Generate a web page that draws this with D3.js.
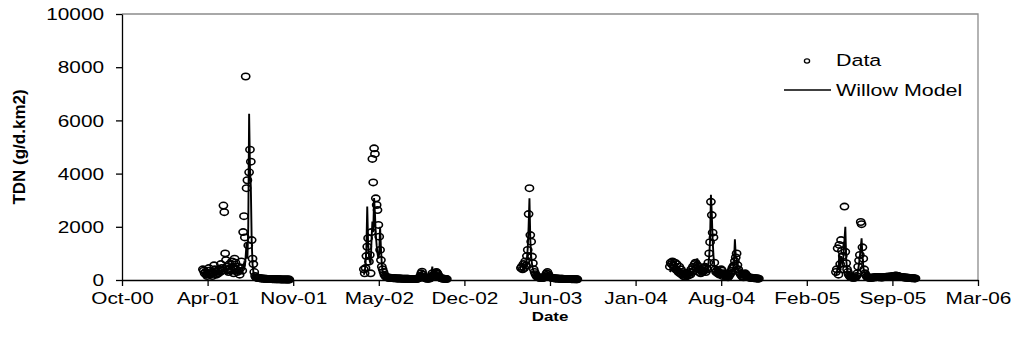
<!DOCTYPE html>
<html>
<head>
<meta charset="utf-8">
<script src="https://cdn.jsdelivr.net/npm/d3@7"></script>
<style>
  body { margin: 0; background: #fff; }
  text { font-family: "Liberation Sans", Arial, sans-serif; fill: #000; }
</style>
</head>
<body>
<div id="viz"></div>
<script>
const width = 1019;
const height = 347;
const margin = {top: 14, right: 41, bottom: 67, left: 122};
const stretch = 1.3; // the source picture is wider than tall, so text reads wide

// axis ticks
const yTicks = [0, 2000, 4000, 6000, 8000, 10000];
const xTickDates = ['2000-10-01', '2001-04-19', '2001-11-05', '2002-05-24', '2002-12-10', '2003-06-28',
                    '2004-01-14', '2004-08-01', '2005-02-17', '2005-09-05', '2006-03-24'];

// sampling: one value every 2 days from the start of each season
const stepDays = 2;
const seasonStarts = ['2001-04-08', '2002-04-19', '2003-04-21', '2004-04-03', '2005-04-26'];

// TDN data (g/d.km2)
const data2001 = [400, 350, 250, 300, 200, 150, 350, 450, 250, 200,
  300, 150, 250, 550, 400, 300, 200, 350, 250, 400,
  300, 600, 450, 350, 2800, 2550, 1000, 750, 500, 400,
  300, 600, 450, 350, 700, 500, 250, 800, 650, 400,
  300, 500, 350, 200, 450, 700, 350, 1800, 2400, 1600,
  7650, 3450, 3750, 1300, 4050, 4900, 4450, 1500, 800, 600,
  300, 150, 100, 90, 80, 75, 70, 65, 60, 60,
  55, 50, 50, 45, 45, 40, 40, 40, 35, 35,
  35, 30, 30, 30, 30, 28, 28, 25, 25, 25,
  25, 22, 22, 22, 20, 20, 20, 20, 20, 18,
  18, 18];
const data2002 = [400, 250, 450, 900, 1250, 1570, 690, 940, 250, 1800,
  4550, 3670, 4950, 4740, 3070, 2820, 2630, 2070, 1630, 1130,
  750, 500, 400, 300, 200, 150, 120, 100, 90, 85,
  80, 80, 75, 75, 70, 70, 65, 65, 60, 60,
  60, 55, 55, 55, 50, 50, 50, 50, 45, 45,
  45, 45, 45, 40, 40, 40, 40, 40, 40, 40,
  40, 40, 45, 50, 60, 80, 150, 250, 310, 200,
  120, 80, 60, 55, 50, 50, 50, 55, 80, 150,
  250, 180, 120, 200, 280, 300, 250, 180, 120, 90,
  70, 60, 55, 50, 45, 40, 40, 35];
const data2003 = [450, 500, 400, 600, 450, 700, 550, 900, 1130, 2480,
  3450, 1690, 1440, 880, 630, 400, 300, 220, 160, 120,
  100, 90, 85, 80, 80, 75, 80, 90, 120, 180,
  250, 300, 220, 150, 110, 90, 80, 75, 70, 65,
  60, 60, 55, 55, 50, 50, 50, 45, 45, 45,
  40, 40, 40, 40, 38, 38, 35, 35, 35, 32,
  32, 30, 30, 30, 28, 28, 25];
const data2004 = [500, 650, 600, 700, 550, 450, 650, 400, 600, 350,
  300, 500, 250, 400, 200, 300, 150, 250, 120, 200,
  150, 250, 180, 300, 200, 400, 300, 500, 350, 600,
  650, 450, 560, 500, 300, 400, 250, 350, 300, 450,
  350, 500, 300, 450, 400, 650, 1000, 1420, 2940, 2440,
  1780, 1600, 650, 400, 300, 350, 250, 300, 200, 250,
  400, 350, 150, 250, 200, 150, 200, 150, 100, 150,
  200, 250, 350, 450, 500, 550, 710, 850, 1000, 560,
  400, 300, 250, 200, 150, 120, 100, 180, 250, 200,
  150, 120, 100, 90, 85, 80, 80, 75, 70, 70,
  65, 60, 60, 55, 50];
const data2005 = [300, 400, 1190, 200, 1320, 600, 1500, 1100, 900, 400,
  2760, 1060, 630, 400, 300, 200, 150, 120, 100, 90,
  80, 80, 90, 100, 150, 250, 500, 730, 940, 2180,
  2100, 1230, 800, 400, 250, 180, 130, 100, 90, 85,
  80, 80, 85, 90, 95, 100, 100, 105, 110, 110,
  105, 100, 100, 95, 95, 100, 105, 110, 115, 120,
  120, 125, 125, 130, 130, 135, 140, 145, 150, 160,
  170, 160, 150, 140, 130, 120, 115, 110, 105, 100,
  95, 90, 90, 85, 80, 80, 75, 75, 70, 70,
  65, 65, 60, 60];

// Willow Model (g/d.km2)
const model2001 = [150, 180, 200, 220, 200, 180, 160, 170, 200, 230,
  250, 220, 200, 180, 200, 240, 260, 230, 210, 200,
  220, 250, 280, 300, 350, 400, 330, 280, 250, 230,
  260, 300, 280, 250, 300, 320, 280, 250, 300, 330,
  300, 270, 250, 280, 320, 350, 400, 450, 600, 500,
  900, 1400, 800, 2000, 6250, 4200, 3500, 1500, 600, 300,
  180, 120, 90, 75, 65, 60, 55, 50, 48, 45,
  42, 40, 38, 36, 35, 33, 32, 30, 30, 28,
  28, 26, 25, 25, 24, 23, 22, 22, 21, 20,
  20, 19, 19, 18, 18, 17, 17, 16, 16, 15,
  15, 15];
const model2002 = [200, 300, 600, 1200, 2760, 1400, 900, 700, 600, 1500,
  2200, 1800, 3080, 2500, 1700, 1300, 1000, 800, 1000, 2000,
  1200, 600, 350, 250, 180, 140, 110, 90, 80, 75,
  70, 68, 65, 62, 60, 58, 56, 55, 53, 52,
  50, 50, 48, 47, 46, 45, 44, 43, 42, 42,
  41, 40, 40, 39, 38, 38, 37, 37, 36, 36,
  36, 38, 42, 50, 70, 120, 200, 260, 280, 180,
  110, 80, 65, 58, 55, 54, 56, 70, 120, 250,
  500, 200, 120, 160, 220, 230, 190, 140, 100, 80,
  65, 58, 52, 48, 44, 40, 38, 35];
const model2003 = [300, 350, 400, 450, 400, 500, 600, 800, 1200, 2000,
  3070, 1500, 900, 600, 400, 300, 220, 160, 120, 100,
  90, 85, 80, 75, 72, 70, 72, 85, 110, 160,
  220, 250, 190, 130, 100, 85, 75, 70, 65, 60,
  58, 55, 52, 50, 48, 46, 45, 44, 42, 41,
  40, 39, 38, 37, 36, 35, 34, 33, 32, 31,
  30, 30, 29, 28, 27, 26, 25];
const model2004 = [300, 350, 400, 450, 400, 350, 400, 350, 300, 280,
  250, 300, 250, 220, 200, 220, 180, 200, 170, 180,
  160, 200, 180, 220, 200, 250, 280, 300, 350, 400,
  450, 500, 815, 450, 350, 300, 280, 300, 280, 320,
  300, 350, 300, 350, 400, 600, 900, 1500, 3200, 2500,
  1500, 900, 500, 350, 300, 280, 250, 230, 200, 220,
  280, 250, 200, 180, 170, 160, 150, 140, 130, 150,
  180, 220, 280, 350, 450, 700, 1530, 900, 800, 500,
  350, 250, 200, 160, 130, 110, 100, 120, 150, 130,
  110, 95, 85, 80, 75, 70, 68, 65, 62, 60,
  58, 55, 52, 50, 48];
const model2005 = [150, 250, 500, 400, 1000, 500, 900, 700, 600, 1000,
  1500, 2000, 800, 400, 250, 180, 130, 110, 100, 90,
  85, 85, 90, 100, 130, 200, 400, 600, 900, 1200,
  1570, 900, 500, 300, 200, 150, 120, 100, 90, 85,
  80, 80, 82, 85, 88, 90, 92, 95, 98, 100,
  98, 95, 95, 92, 92, 95, 98, 100, 105, 110,
  112, 115, 118, 120, 122, 125, 130, 135, 140, 150,
  155, 145, 135, 128, 120, 112, 105, 100, 95, 90,
  86, 82, 80, 76, 72, 70, 68, 65, 62, 60,
  58, 55, 52, 50];

const dataSeasons = [data2001, data2002, data2003, data2004, data2005];
const modelSeasons = [model2001, model2002, model2003, model2004, model2005];

const parseDate = d3.utcParse('%Y-%m-%d');

// turn a season's values into {date, value} records
const toRecords = (values, s) => values.map((v, i) => ({
  date: d3.utcDay.offset(parseDate(seasonStarts[s]), i * stepDays),
  value: v
}));

const svg = d3.select('#viz')
  .append('svg')
    .attr('width', width)
    .attr('height', height);

const xScale = d3.scaleUtc()
  .domain([parseDate(xTickDates[0]), parseDate(xTickDates[xTickDates.length - 1])])
  .range([margin.left, width - margin.right]);

const yScale = d3.scaleLinear()
  .domain([0, 10000])
  .range([height - margin.bottom, margin.top]);

// plot frame: grey top and right edge
svg.append('path')
  .attr('d', `M${margin.left},${margin.top}H${width - margin.right}V${height - margin.bottom}`)
  .attr('fill', 'none')
  .attr('stroke', '#8c8c8c')
  .attr('stroke-width', 1.3);

// data markers
const markers = svg.append('g')
  .attr('fill', 'none')
  .attr('stroke', '#000')
  .attr('stroke-width', 1.6);

dataSeasons.forEach((values, s) => {
  markers.selectAll(null)
    .data(toRecords(values, s))
    .join('ellipse')
      .attr('cx', d => xScale(d.date))
      .attr('cy', d => yScale(d.value))
      .attr('rx', 4.1)
      .attr('ry', 3.2);
});

// model lines, one path per season
const line = d3.line()
  .x(d => xScale(d.date))
  .y(d => yScale(d.value));

svg.append('g')
  .selectAll('path')
  .data(modelSeasons.map((values, s) => toRecords(values, s)))
  .join('path')
    .attr('d', line)
    .attr('fill', 'none')
    .attr('stroke', '#000')
    .attr('stroke-width', 1.9);

// y axis
const yAxis = svg.append('g')
  .attr('transform', `translate(${margin.left},0)`)
  .call(d3.axisLeft(yScale).tickValues(yTicks).tickSize(6).tickSizeOuter(0).tickFormat(d3.format('d')));

yAxis.selectAll('text')
  .attr('x', -18 / stretch)
  .attr('dy', '0.36em')
  .attr('transform', `scale(${stretch},1)`)
  .style('font-size', '16px');

// x axis
const xAxis = svg.append('g')
  .attr('transform', `translate(0,${height - margin.bottom})`)
  .call(d3.axisBottom(xScale)
    .tickValues(xTickDates.map(parseDate))
    .tickSize(6)
    .tickSizeOuter(0)
    .tickFormat(d3.utcFormat('%b-%y')));

xAxis.selectAll('text')
  .attr('y', 13)
  .attr('dy', '0.71em')
  .attr('transform', `scale(${stretch},1)`)
  .style('font-size', '16px');

svg.selectAll('.domain, .tick line')
  .attr('stroke', '#000')
  .attr('stroke-width', 1.3);

// axis titles
svg.append('text')
  .attr('transform', `translate(550,321) scale(${stretch},1)`)
  .attr('text-anchor', 'middle')
  .style('font-size', '13px')
  .style('font-weight', 'bold')
  .text('Date');

svg.append('text')
  .attr('transform', 'translate(25,147) rotate(-90)')
  .attr('text-anchor', 'middle')
  .style('font-size', '17px')
  .style('font-weight', 'bold')
  .text('TDN (g/d.km2)');

// legend
const legend = svg.append('g');

legend.append('ellipse')
  .attr('cx', 807)
  .attr('cy', 61)
  .attr('rx', 2.6)
  .attr('ry', 2.1)
  .attr('fill', 'none')
  .attr('stroke', '#000')
  .attr('stroke-width', 1.3);

legend.append('line')
  .attr('x1', 784)
  .attr('x2', 831)
  .attr('y1', 90)
  .attr('y2', 90)
  .attr('stroke', '#000')
  .attr('stroke-width', 1.6);

legend.selectAll('text')
  .data(['Data', 'Willow Model'])
  .join('text')
    .attr('transform', (d, i) => `translate(836,${66 + i * 30}) scale(${stretch},1)`)
    .style('font-size', '16.5px')
    .text(d => d);
</script>
</body>
</html>
